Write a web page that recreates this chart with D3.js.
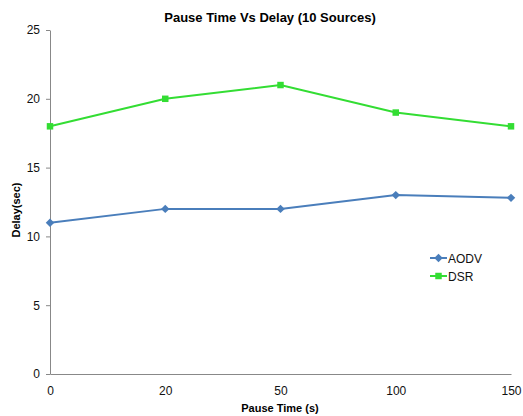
<!DOCTYPE html>
<html>
<head>
<meta charset="utf-8">
<script src="https://cdn.jsdelivr.net/npm/d3@7"></script>
<style>
  html, body { margin: 0; padding: 0; background: #fff; }
  svg { display: block; font-family: "Liberation Sans", Arial, sans-serif; }
</style>
</head>
<body>
<svg id="chart" width="523" height="416"></svg>
<script>
// Pause time categories (s) and mean delay (sec) for each routing protocol
const pauseTimes = ["0", "20", "50", "100", "150"];
const aodvDelay = [11, 12, 12, 13, 12.8];
const dsrDelay = [18, 20, 21, 19, 18];
const yTicks = [0, 5, 10, 15, 20, 25];

// AODV uses a square turned 45 degrees (a regular diamond), DSR a plain square
const series = [
  { name: "AODV", values: aodvDelay, color: "#4a7ebb", symbol: d3.symbolSquare, size: 36, rotate: 45 },
  { name: "DSR", values: dsrDelay, color: "#33dd33", symbol: d3.symbolSquare, size: 42, rotate: 0 }
];

const svg = d3.select("#chart");
const margin = { left: 50, right: 12, top: 30, bottom: 42 };
const width = 523, height = 416;

const x = d3.scalePoint().domain(pauseTimes).range([margin.left, width - margin.right]);
const y = d3.scaleLinear().domain([0, 25]).range([height - margin.bottom, margin.top]);

// Title
svg.append("text")
  .attr("x", 270).attr("y", 22)
  .attr("text-anchor", "middle")
  .attr("font-weight", "bold").attr("font-size", 13)
  .text("Pause Time Vs Delay (10 Sources)");

// Y axis
const yAxis = svg.append("g")
  .attr("transform", `translate(${margin.left},0)`)
  .call(d3.axisLeft(y).tickValues(yTicks).tickSize(4).tickPadding(6).tickSizeOuter(0));
yAxis.select(".domain").attr("stroke", "#888");
yAxis.selectAll(".tick line").attr("stroke", "#888");
yAxis.selectAll(".tick text").attr("font-size", 12).attr("fill", "#111")
  .attr("font-family", "Liberation Sans, Arial, sans-serif");

// X axis
const xAxis = svg.append("g")
  .attr("transform", `translate(0,${y(0)})`)
  .call(d3.axisBottom(x).tickSize(0).tickPadding(12).tickSizeOuter(0));
xAxis.select(".domain").attr("stroke", "#888");
xAxis.selectAll(".tick text").attr("font-size", 12).attr("fill", "#111")
  .attr("font-family", "Liberation Sans, Arial, sans-serif");

// Axis titles
svg.append("text")
  .attr("x", 280).attr("y", 412)
  .attr("text-anchor", "middle")
  .attr("font-weight", "bold").attr("font-size", 11)
  .text("Pause Time (s)");

svg.append("text")
  .attr("transform", `translate(20,${(y(0) + y(25)) / 2 + 8}) rotate(-90)`)
  .attr("text-anchor", "middle")
  .attr("font-weight", "bold").attr("font-size", 11)
  .text("Delay(sec)");

// Lines and markers
const line = d3.line().x((d, i) => x(pauseTimes[i])).y(d => y(d));

series.forEach(s => {
  svg.append("path")
    .datum(s.values)
    .attr("fill", "none")
    .attr("stroke", s.color)
    .attr("stroke-width", 2)
    .attr("d", line);
  svg.selectAll(null)
    .data(s.values)
    .enter().append("path")
    .attr("transform", (d, i) => `translate(${x(pauseTimes[i])},${y(d)}) rotate(${s.rotate})`)
    .attr("d", d3.symbol().type(s.symbol).size(s.size))
    .attr("fill", s.color);
});

// Legend
const legend = svg.append("g").attr("transform", "translate(430,258)");
series.forEach((s, i) => {
  const g = legend.append("g").attr("transform", `translate(0,${i * 18})`);
  g.append("line").attr("x1", 0).attr("x2", 17).attr("stroke", s.color).attr("stroke-width", 2);
  g.append("path").attr("transform", `translate(8.5,0) rotate(${s.rotate})`)
    .attr("d", d3.symbol().type(s.symbol).size(s.size)).attr("fill", s.color);
  g.append("text").attr("x", 18).attr("y", 4.5)
    .attr("font-size", 12).attr("fill", "#111").text(s.name);
});
</script>
</body>
</html>
